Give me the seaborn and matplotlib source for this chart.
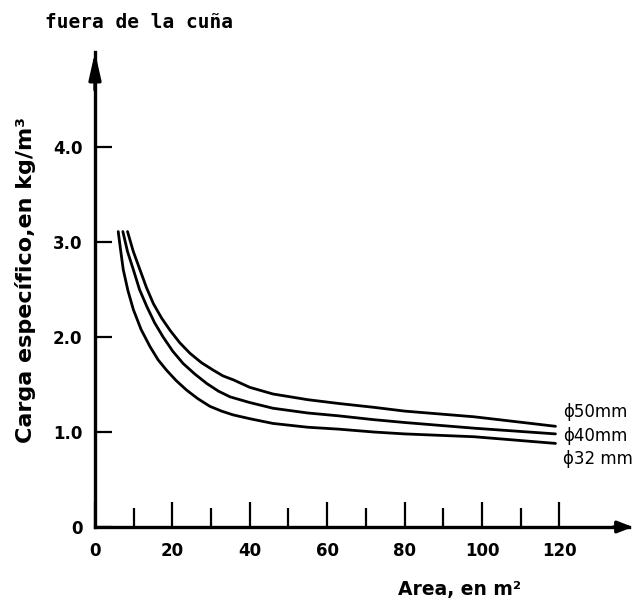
import matplotlib
matplotlib.use("Agg")
import matplotlib.pyplot as plt
import pandas as pd
import seaborn as sns

# Specific charge (kg/m3) against excavated area (m2) for three drill diameters
area_50 = [8.4, 9.9, 11.6, 13.3, 15.1, 17.2, 19.4, 21.9, 24.5, 27.5, 30.6, 33.1,
           35.7, 40, 46, 55, 63, 72, 80, 98, 119]
carga_50 = [3.11, 2.90, 2.71, 2.52, 2.35, 2.20, 2.07, 1.94, 1.83, 1.73, 1.65, 1.59,
            1.55, 1.47, 1.40, 1.34, 1.30, 1.26, 1.22, 1.16, 1.06]

area_40 = [7.2, 8.4, 9.9, 11.5, 13.4, 15.4, 17.6, 20.1, 22.8, 25.8, 28.9, 31.9,
           34.9, 40, 46, 55, 63, 72, 80, 98, 119]
carga_40 = [3.11, 2.90, 2.71, 2.50, 2.32, 2.15, 2.00, 1.85, 1.72, 1.61, 1.51, 1.43,
            1.37, 1.31, 1.25, 1.20, 1.17, 1.13, 1.10, 1.04, 0.98]

area_32 = [6.0, 6.6, 7.3, 8.5, 9.9, 11.9, 14.2, 16.3, 18.5, 21.0, 23.7, 26.6,
           29.7, 32.7, 35.7, 40, 46, 55, 63, 72, 80, 98, 119]
carga_32 = [3.11, 2.92, 2.71, 2.49, 2.29, 2.08, 1.90, 1.76, 1.65, 1.54, 1.44, 1.35,
            1.27, 1.22, 1.18, 1.14, 1.09, 1.05, 1.03, 1.00, 0.98, 0.95, 0.88]

diametros = ["ϕ50mm", "ϕ40mm", "ϕ32 mm"]
label_y = [1.21, 0.96, 0.72]

x_ticks = [0, 20, 40, 60, 80, 100, 120]
x_minor = [10, 30, 50, 70, 90, 110]
y_ticks = [0, 1, 2, 3, 4]
y_labels = ["0", "1.0", "2.0", "3.0", "4.0"]

frames = []
for name, xs, ys in zip(diametros, [area_50, area_40, area_32],
                        [carga_50, carga_40, carga_32]):
    frames.append(pd.DataFrame({"area": xs, "carga": ys, "diam": name}))
df = pd.concat(frames, ignore_index=True)

sns.set_style("white")
plt.rcParams["font.family"] = ["DejaVu Sans"]
plt.rcParams["text.color"] = "black"
plt.rcParams["axes.labelcolor"] = "black"
plt.rcParams["xtick.color"] = "black"
plt.rcParams["ytick.color"] = "black"

fig = plt.figure(figsize=(6.36, 6.03), dpi=100)
ax = fig.add_axes([95 / 636, 76 / 603, 534 / 636, 475 / 603])

sns.lineplot(data=df, x="area", y="carga", hue="diam", palette=["black"] * 3,
             estimator=None, sort=False, legend=False, linewidth=2.0, ax=ax)

ax.set_xlim(0, 138)
ax.set_ylim(0, 5.0)

for side in ("top", "right"):
    ax.spines[side].set_visible(False)
for side in ("left", "bottom"):
    ax.spines[side].set_linewidth(2.4)
    ax.spines[side].set_color("black")

ax.set_xticks(x_ticks)
ax.set_xticklabels([str(v) for v in x_ticks], fontsize=12, fontweight="bold")
ax.set_xticks(x_minor, minor=True)
ax.set_yticks(y_ticks)
ax.set_yticklabels(y_labels, fontsize=12, fontweight="bold")
ax.tick_params(axis="x", which="major", direction="in", length=18, width=1.6,
               pad=11, colors="black", bottom=True)
ax.tick_params(axis="x", which="minor", direction="in", length=14, width=1.6,
               colors="black", bottom=True)
ax.tick_params(axis="y", which="major", direction="in", length=12, width=1.6,
               pad=9, colors="black", left=True)
ax.set_xlabel("")
ax.set_ylabel("")

# Arrow heads at the ends of both axes
ax.annotate("", xy=(0, 5.0), xytext=(0, 4.6),
            arrowprops=dict(arrowstyle="-|>,head_length=1.6,head_width=0.36",
                            color="black", lw=2.4, shrinkA=0, shrinkB=0),
            annotation_clip=False)
ax.annotate("", xy=(139, 0), xytext=(134, 0),
            arrowprops=dict(arrowstyle="-|>,head_length=0.9,head_width=0.35",
                            color="black", lw=2.4, shrinkA=0, shrinkB=0),
            annotation_clip=False)

for name, yv in zip(diametros, label_y):
    ax.text(121.0, yv, name, fontsize=12, ha="left", va="center",
            color="black", clip_on=False)

fig.text(45 / 636, 1 - 22 / 603, "fuera de la cuña", family="DejaVu Sans Mono",
         fontweight="bold", fontsize=14, ha="left", va="center", color="black")
fig.text(26 / 636, 1 - 280 / 603, "Carga específico,en kg/m³", rotation=90,
         fontsize=16, fontweight="bold", ha="center", va="center", color="black")
fig.text(459 / 636, 1 - 589 / 603, "Area, en m²", fontsize=13.5,
         fontweight="bold", ha="center", va="center", color="black")

fig.savefig("out.png", dpi=100, facecolor="white")
